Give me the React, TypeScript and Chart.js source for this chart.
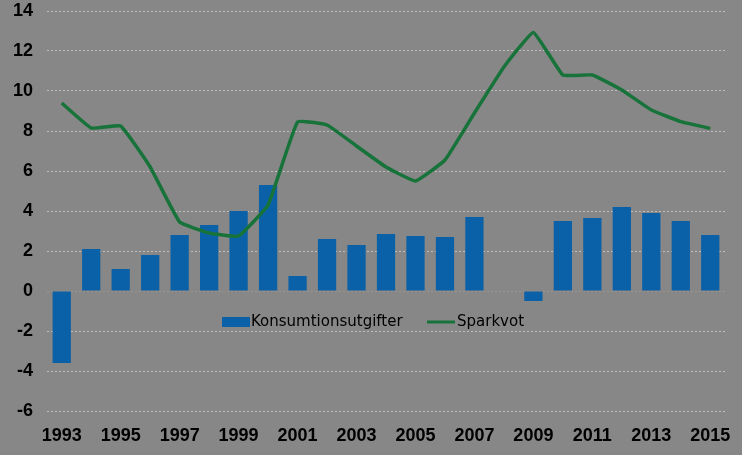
import React, { useEffect, useRef } from "react";
import { Chart, registerables } from "chart.js";

Chart.register(...registerables);

const years = [
  "1993", "1994", "1995", "1996", "1997", "1998", "1999", "2000", "2001", "2002", "2003", "2004",
  "2005", "2006", "2007", "2008", "2009", "2010", "2011", "2012", "2013", "2014", "2015",
];
const konsumtion = [
  -3.6, 2.1, 1.1, 1.8, 2.8, 3.3, 4.0, 5.3, 0.75, 2.6, 2.3, 2.85,
  2.75, 2.7, 3.7, 0, -0.5, 3.5, 3.65, 4.2, 3.9, 3.5, 2.8,
];
const sparkvot = [
  9.4, 8.15, 8.25, 6.2, 3.45, 2.9, 2.75, 4.3, 8.45, 8.3, 7.25, 6.2,
  5.5, 6.55, 8.9, 11.2, 12.93, 10.8, 10.8, 10.05, 9.05, 8.47, 8.13,
];
const yTicks = [-6, -4, -2, 0, 2, 4, 6, 8, 10, 12, 14];

const BAR = "#0b61a8";
const LINE = "#17733a";
const BG = "#878787";

const legendPlugin = {
  id: "inlineLegend",
  afterDraw(chart: any) {
    const ctx = chart.ctx;
    ctx.save();
    const y = 322;
    ctx.font = "15px 'DejaVu Sans'";
    ctx.textBaseline = "middle";
    ctx.fillStyle = BAR;
    ctx.fillRect(222, y - 5, 28, 10);
    ctx.fillStyle = "#000";
    ctx.textAlign = "left";
    ctx.fillText(chart.data.datasets[0].label, 251, y);
    ctx.strokeStyle = LINE;
    ctx.lineWidth = 3;
    ctx.beginPath();
    ctx.moveTo(427, y);
    ctx.lineTo(455, y);
    ctx.stroke();
    ctx.fillText(chart.data.datasets[1].label, 457, y);
    ctx.restore();
  },
};

export default function App() {
  const ref = useRef<HTMLCanvasElement>(null);
  useEffect(() => {
    document.body.style.margin = "0";
    const chart = new Chart(ref.current!, {
      type: "bar",
      data: {
        labels: years,
        datasets: [
          {
            type: "bar",
            label: "Konsumtionsutgifter",
            data: konsumtion,
            backgroundColor: BAR,
            categoryPercentage: 1,
            barPercentage: 0.62,
            order: 2,
          },
          {
            type: "line",
            label: "Sparkvot",
            data: sparkvot,
            borderColor: LINE,
            borderWidth: 3.5,
            pointRadius: 0,
            tension: 0.1,
            fill: false,
            order: 1,
          },
        ],
      },
      options: {
        animation: false,
        responsive: false,
        maintainAspectRatio: false,
        layout: { padding: { top: 0, right: 17, left: 0, bottom: 0 } },
        plugins: { legend: { display: false }, tooltip: { enabled: false } },
        scales: {
          x: {
            offset: true,
            grid: { display: false, drawTicks: false },
            border: { display: false },
            ticks: {
              autoSkip: false,
              maxRotation: 0,
              padding: 14,
              color: "#000",
              font: { family: "'Liberation Sans'", size: 18, weight: "bold" },
              callback: (_v: any, i: number) => (i % 2 === 0 ? years[i] : ""),
            },
            afterFit: (s: any) => {
              s.height = 44;
              s.paddingLeft = 0;
              s.paddingRight = 0;
            },
          },
          y: {
            min: -6,
            max: 14,
            afterBuildTicks: (s: any) => {
              s.ticks = yTicks.map((v) => ({ value: v }));
            },
            grid: {
              drawTicks: false,
              color: (c: any) => (c.tick && c.tick.value === 0 ? "#9b948c" : "rgba(205,205,205,0.8)"),
              lineWidth: 1,
            },
            border: { display: false, dash: [2, 2] },
            ticks: {
              padding: 14,
              color: "#000",
              font: { family: "'Liberation Sans'", size: 18, weight: "bold" },
            },
            afterFit: (s: any) => {
              s.width = 47;
              s.paddingTop = 11;
              s.paddingBottom = 0;
            },
          },
        },
      },
      plugins: [legendPlugin],
    });
    return () => chart.destroy();
  }, []);
  return (
    <div style={{ position: "absolute", left: 0, top: 0, width: 742, height: 455, background: BG }}>
      <canvas ref={ref} width={742} height={455} style={{ display: "block" }} />
    </div>
  );
}
